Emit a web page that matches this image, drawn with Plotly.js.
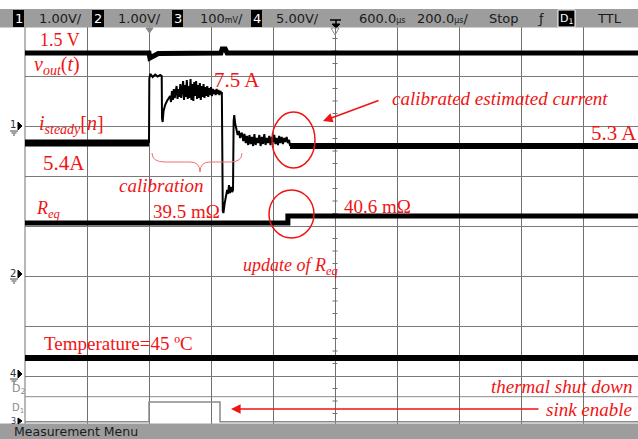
<!DOCTYPE html>
<html><head><meta charset="utf-8">
<script src="https://cdn.plot.ly/plotly-3.0.1.min.js"></script>
<style>html,body{margin:0;padding:0;background:#fff}#plot{width:638px;height:439px}</style>
</head><body><div id="plot"></div>
<script>
// ---- data (time in µs, vertical position in scope divisions) ----
const vTime = [-400, 0, 3, 12, 30, 232, 236, 246, 252, 1580];
const vOut  = [7.46, 7.46, 7.36, 7.40, 7.45, 7.46, 7.54, 7.54, 7.46, 7.46];

const iPreTime = [-400, 0];
const iPre     = [5.66, 5.66];
const iTime = [0, 1, 4, 12, 20, 28, 36, 41, 42, 44, 47, 52, 58, 64,
  68,71,74,77,80,83,86,89,92,95,98,101,104,107,110,113,116,119,122,125,128,131,134,137,140,143,146,149,152,155,158,161,164,167,170,173,176,179,182,185,188,191,194,197,200,203,206,209,212,215,218,221,224,227,230,233,
  235, 238, 240, 244, 248, 252, 255, 258, 261, 264, 268, 271, 273, 275, 278, 282, 286, 290, 294, 297,
  300,304,308,312,316,320,324,328,332,336,340,344,348,352,356,360,364,368,372,376,380,384,388,392,396,400,404,408,412,416,420,424,428,432,436,440,444,448,452,
  455];
const iVal = [5.66, 6.95, 7.04, 6.98, 7.03, 6.99, 7.02, 7.00, 6.15, 6.08, 6.30, 6.42, 6.50, 6.56,
  6.60,6.48,6.70,6.52,6.74,6.56,6.68,6.80,6.54,6.74,6.58,6.84,6.56,6.78,6.90,6.52,6.82,6.58,6.92,6.54,6.80,6.56,6.94,6.52,6.84,6.50,6.88,6.60,6.90,6.54,6.82,6.56,6.86,6.52,6.80,6.58,6.84,6.56,6.78,6.60,6.80,6.58,6.76,6.62,6.78,6.60,6.74,6.64,6.72,6.62,6.74,6.64,6.72,6.62,6.70,6.66,
  6.66, 4.30, 4.26, 4.45, 4.62, 4.72, 4.64, 4.82, 4.66, 4.78, 4.68, 4.72, 6.10, 6.22, 6.05, 5.95, 5.82, 5.90, 5.76, 5.84,
  5.86,5.70,5.84,5.66,5.80,5.62,5.82,5.64,5.78,5.60,5.84,5.62,5.76,5.66,5.82,5.60,5.78,5.64,5.84,5.62,5.76,5.66,5.80,5.62,5.78,5.68,5.82,5.64,5.76,5.62,5.80,5.66,5.78,5.64,5.76,5.68,5.78,5.66,5.72,
  5.60];
const iPostTime = [455, 1580];
const iPost     = [5.60, 5.60];

const reqTime = [-400, 448, 448, 1580];
const reqVal  = [4.06, 4.06, 4.20, 4.20];

const tempTime = [-400, 1580];
const tempVal  = [1.36, 1.36];

const d1Time = [-400, 0, 0, 229, 229, 1580];
const d1Val  = [0.086, 0.086, 0.48, 0.48, 0.086, 0.086];

// ---- helpers for decorations (pixel -> paper) ----
const L = 25, T = 27, W = 613, H = 397;
const px = x => (x - L) / W;
const py = y => (T + H - y) / H;
const RED = 'rgb(240,20,20)';
const SERIF = 'Liberation Serif, Times New Roman, serif';
const SANS = 'DejaVu Sans, sans-serif';

const traces = [
  {x: vTime, y: vOut, mode: 'lines', line: {color: '#000', width: 5}},
  {x: iPreTime, y: iPre, mode: 'lines', line: {color: '#000', width: 7}},
  {x: iTime, y: iVal, mode: 'lines', line: {color: '#000', width: 2}},
  {x: iPostTime, y: iPost, mode: 'lines', line: {color: '#000', width: 6}},
  {x: reqTime, y: reqVal, mode: 'lines', line: {color: '#000', width: 5}},
  {x: tempTime, y: tempVal, mode: 'lines', line: {color: '#000', width: 6}},
  {x: d1Time, y: d1Val, mode: 'lines', line: {color: '#8a8a8a', width: 1.5}}
].map(t => Object.assign(t, {hoverinfo: 'skip', showlegend: false}));

const shapes = [];
const ann = [];
function rect(x0,y0,x1,y1,fill,line){shapes.push({type:'rect',xref:'paper',yref:'paper',x0:px(x0),x1:px(x1),y0:py(y1),y1:py(y0),fillcolor:fill,line:line||{width:0},layer:'above'});}
function seg(x0,y0,x1,y1,color,w,layer){shapes.push({type:'line',xref:'paper',yref:'paper',x0:px(x0),x1:px(x1),y0:py(y0),y1:py(y1),line:{color:color,width:w},layer:layer||'above'});}
function path(pts,fill,color,w){let d=pts.map((p,i)=>(i?'L':'M')+px(p[0])+','+py(p[1])).join(' ')+' Z';shapes.push({type:'path',xref:'paper',yref:'paper',path:d,fillcolor:fill,line:{color:color,width:w},layer:'above'});}
function text(t,x,y,size,color,family,xa,extra){ann.push(Object.assign({text:t,xref:'paper',yref:'paper',x:px(x),y:py(y),xanchor:xa||'left',yanchor:'middle',showarrow:false,font:{size:size,color:color,family:family}},extra||{}));}

// header bar
rect(0,9,638,27.5,'#9d9d9d');
function chanBox(label,x0,x1){rect(x0,10,x1,27,'#000');text(label,(x0+x1)/2,18.5,13,'#fff',SANS,'center');}
chanBox('1',13,24); text('1.00V/',37,18.5,13,'#1a1a1a',SANS);
chanBox('2',92,104); text('1.00V/',116,18.5,13,'#1a1a1a',SANS);
chanBox('3',172,183); text("100<span style='font-size:8px'>mV</span>/",198,18.5,13,'#1a1a1a',SANS);
chanBox('4',251,262); text('5.00V/',274,18.5,13,'#1a1a1a',SANS);
text("600.0<span style='font-size:8px'>µs</span>",357,18.5,13,'#1a1a1a',SANS);
text("200.0<span style='font-size:8px'>µs</span>/",415,18.5,13,'#1a1a1a',SANS);
text('Stop',487,18.5,13,'#1a1a1a',SANS);
text('ƒ',536,18.5,13,'#1a1a1a',SANS);
rect(558,10,575,27,'#000',{color:'#fff',width:1});
text('D<sub>1</sub>',566.5,18.5,11,'#fff',SANS,'center');
text('TTL',595,18.5,13,'#1a1a1a',SANS);
// trigger symbol in header
seg(330,20,341,20,'#000',1.5); seg(336,20,336,25,'#000',1.5);
path([[332,24],[340,24],[336,28]],'#000','#000',1);

// bottom bar
rect(0,423.5,638,439,'#9d9d9d');
text('Measurement Menu',12,431.5,12.5,'#1a1a1a',SANS);

// left border and extra digital-area line
seg(25,27,25,424,'#707070',1,'below');
seg(25,396.7,638,396.7,'#8a8a8a',1,'below');
// minor ticks on centre vertical line
for (let k = 0; k < 32; k++) { if (k % 4 === 0) continue; const y = 426 - 12.5*k; if (y < 30 || y > 420) continue; seg(332.5, y, 337.5, y, '#707070', 1, 'below'); }

// markers under header
path([[146,28],[153,28],[149.5,33]],'#8a8a8a','#8a8a8a',1);
path([[331,28],[339,28],[335,35]],'rgba(0,0,0,0)','#8a8a8a',1);

// left strip channel markers
function gnd(x,y){seg(x-4,y,x+4,y,'#444',1);seg(x-2.5,y+2,x+2.5,y+2,'#444',1);seg(x-1,y+4,x+1,y+4,'#444',1);}
text('1',13,125,10,'#333',SANS,'center'); path([[18,122],[18,130],[22,126]],'#000','#000',1); gnd(14,131);
text('2',13,273,10,'#333',SANS,'center'); path([[18,270],[18,278],[22,274]],'#000','#000',1); gnd(14,279);
text('4',13,373,10,'#333',SANS,'center'); path([[18,370],[18,378],[22,374]],'#000','#000',1); gnd(14,379);
text('D<sub>2</sub>',10,389,11,'#8a8a8a',SANS,'left');
text('D<sub>1</sub>',10,408,10,'#8a8a8a',SANS,'left');
text('3',13,421.5,8,'#333',SANS,'center'); path([[18,418],[18,424],[22,421]],'#000','#000',1);

// red annotations
text('1.5 V',38,40,18,RED,SERIF);
text('<i>v<sub>out</sub></i>(<i>t</i>)',32,66,20,RED,SERIF);
text('7.5 A',212,80,21,RED,SERIF);
text('<i>i<sub>steady</sub></i>[<i>n</i>]',37,124,20,RED,SERIF);
text('5.4A',41,163,21,RED,SERIF);
text('<i>calibration</i>',117,185,19,RED,SERIF);
text('<i>R<sub>eq</sub></i>',34,209,18,RED,SERIF);
text('39.5 mΩ',151,211,19,RED,SERIF);
text('40.6 mΩ',342,206,19,RED,SERIF);
text('5.3 A',589,133,21,RED,SERIF);
text('<i>calibrated estimated current</i>',390,98,19,RED,SERIF);
text('<i>update of R<sub>eq</sub></i>',241,266,18,RED,SERIF);
text('Temperature=45 ºC',42,343,19,RED,SERIF);
text('<i>thermal shut down</i>',634,386,19,RED,SERIF,'right');
text('<i>sink enable</i>',634,409,19,RED,SERIF,'right');

// arrows
ann.push({xref:'paper',yref:'paper',x:px(323),y:py(121),ax:380-323,ay:100-121,axref:'pixel',ayref:'pixel',text:'',showarrow:true,arrowhead:2,arrowsize:1.2,arrowwidth:1.6,arrowcolor:RED});
ann.push({xref:'paper',yref:'paper',x:px(231),y:py(409),ax:540-231,ay:0,text:'',showarrow:true,arrowhead:2,arrowsize:1.2,arrowwidth:1.6,arrowcolor:RED});

// ellipses
shapes.push({type:'circle',xref:'paper',yref:'paper',x0:px(272),x1:px(315),y0:py(168),y1:py(112),line:{color:RED,width:1.5},layer:'above'});
shapes.push({type:'circle',xref:'paper',yref:'paper',x0:px(269),x1:px(314),y0:py(238),y1:py(190),line:{color:RED,width:1.5},layer:'above'});

// brace
(function(){
  const P = (x,y) => px(x)+','+py(y);
  const d = 'M '+P(152,153)+' Q '+P(152,162)+' '+P(165,162)+' L '+P(190,162)+' Q '+P(200,162)+' '+P(200,172)+
            ' Q '+P(200,162)+' '+P(210,162)+' L '+P(230,162)+' Q '+P(242,162)+' '+P(242,153);
  shapes.push({type:'path',xref:'paper',yref:'paper',path:d,line:{color:'#f07070',width:1},layer:'above'});
})();

const layout = {
  width: 638, height: 439,
  margin: {l: L, r: 0, t: T, b: 15, pad: 0},
  paper_bgcolor: '#fff', plot_bgcolor: '#fff',
  showlegend: false,
  xaxis: {range: [-400, 1577.4], tick0: -400, dtick: 200, showgrid: true, gridcolor: '#707070', gridwidth: 1,
          zeroline: false, showline: false, showticklabels: false, ticks: '', fixedrange: true},
  yaxis: {range: [0.04, 7.98], tick0: 0, dtick: 1, showgrid: true, gridcolor: '#7a7a7a', gridwidth: 1,
          zeroline: false, showline: false, showticklabels: false, ticks: '', fixedrange: true},
  shapes: shapes,
  annotations: ann
};
Plotly.newPlot('plot', traces, layout, {staticPlot: true, displayModeBar: false});
</script></body></html>
